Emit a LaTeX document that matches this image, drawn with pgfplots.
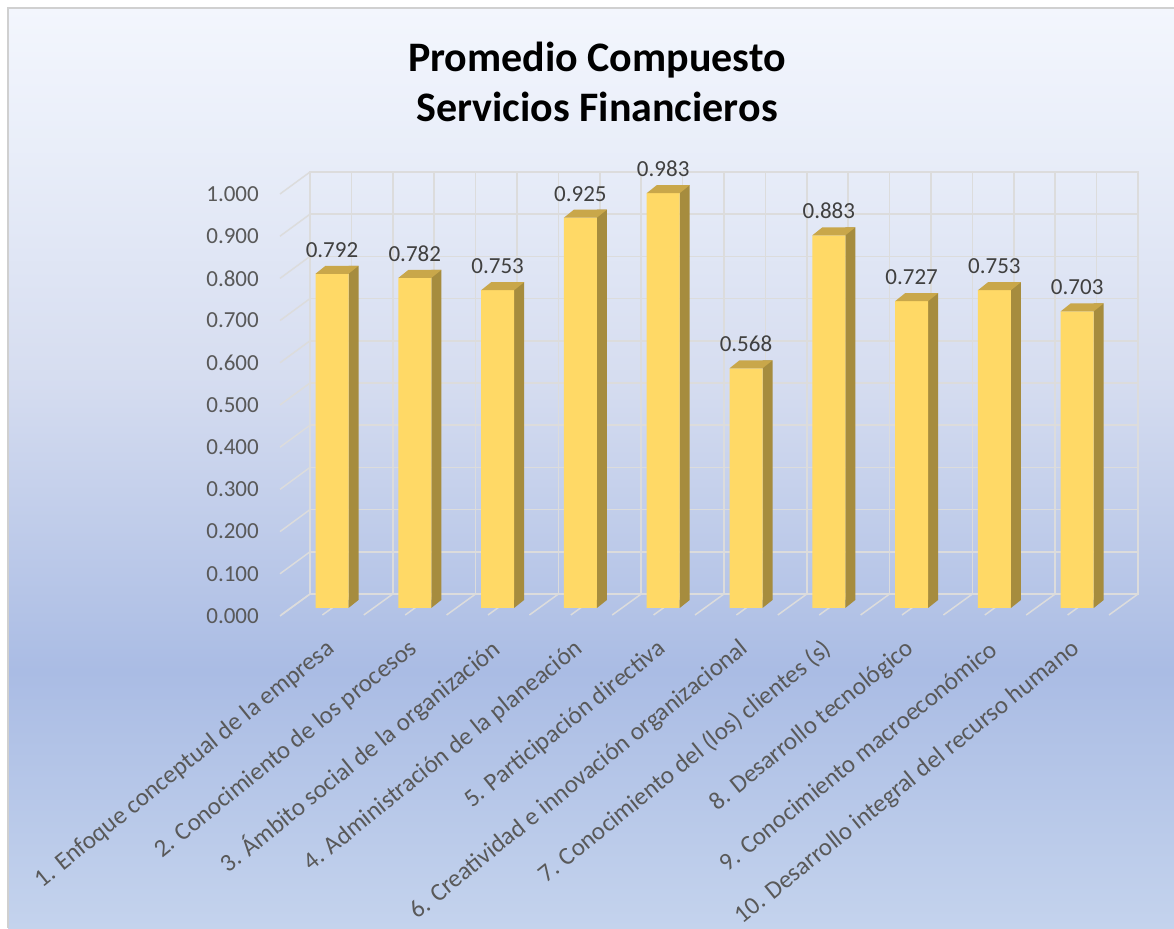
\documentclass[border=0pt]{standalone}
\usepackage{pgfplots}
\usepackage{pgfplotstable}
\pgfplotsset{compat=1.18}
\usepackage{fontspec}
\setmainfont{Carlito}
\definecolor{barfront}{HTML}{FFD966}
\definecolor{barside}{HTML}{A68C3E}
\definecolor{bartop}{HTML}{C9A74A}
\definecolor{gridc}{HTML}{DCDCDC}
\definecolor{tickc}{HTML}{595959}
\definecolor{datac}{HTML}{404040}
\definecolor{bordc}{HTML}{D0D0D0}
\definecolor{cb}{RGB}{196,211,237}
\definecolor{cm}{RGB}{170,188,228}
\definecolor{cmid}{RGB}{214,221,240}
\definecolor{cup}{RGB}{233,238,249}
\definecolor{ct}{RGB}{243,246,253}
\pgfdeclareverticalshading{bgshade}{100bp}{color(0bp)=(cb); color(25bp)=(cb); color(39bp)=(cm); color(55bp)=(cmid); color(67.5bp)=(cup); color(75bp)=(ct); color(100bp)=(ct)}
\pgfdeclareplotmark{bartopmark}{%
  \pgfpathmoveto{\pgfpoint{-35.9pt}{-14pt}}%
  \pgfpathlineto{\pgfpoint{-2.9pt}{-14pt}}%
  \pgfpathlineto{\pgfpoint{7.1pt}{-6pt}}%
  \pgfpathlineto{\pgfpoint{-25.9pt}{-6pt}}%
  \pgfpathclose\pgfusepathqfill}
\pgfdeclareplotmark{barfootmark}{%
  \pgfpathmoveto{\pgfpoint{-2.9pt}{-14pt}}%
  \pgfpathlineto{\pgfpoint{7.1pt}{-6pt}}%
  \pgfpathlineto{\pgfpoint{-2.9pt}{-6pt}}%
  \pgfpathclose\pgfusepathqfill}
\pgfplotstableread{
x y base
0 0.792 0
1 0.782 0
2 0.753 0
3 0.925 0
4 0.983 0
5 0.568 0
6 0.883 0
7 0.727 0
8 0.753 0
9 0.703 0
}\datatable
\begin{document}
\begin{tikzpicture}
\useasboundingbox (0pt,0pt) rectangle (1174pt,928pt);
\shade[shading=bgshade] (8pt,0pt) rectangle (1174pt,920pt);
\draw[color=bordc, line width=2pt] (8pt,0pt) -- (8pt,920pt) -- (1174pt,920pt);
\node[anchor=base, font=\bfseries\fontsize{42}{48}\selectfont] at (597pt,856pt) {Promedio Compuesto};
\node[anchor=base, font=\bfseries\fontsize{42}{48}\selectfont] at (597pt,806pt) {Servicios Financieros};
\begin{axis}[
  at={(310pt,334pt)}, anchor=south west,
  width=828pt, height=422pt, scale only axis,
  xmin=-0.5, xmax=9.5, ymin=0, ymax=1,
  clip=false,
  axis line style={draw=gridc, line width=1.5pt},
  major tick length=0pt, minor tick length=0pt,
  tick style={draw=none},
  ytick={0,0.1,0.2,0.3,0.4,0.5,0.6,0.7,0.8,0.9,1},
  xtick={0,1,2,3,4,5,6,7,8,9},
  minor xtick={-0.5,0.5,1.5,2.5,3.5,4.5,5.5,6.5,7.5,8.5,9.5},
  ymajorgrids, xmajorgrids, xminorgrids,
  major grid style={draw=gridc, line width=1.5pt},
  minor grid style={draw=gridc, line width=1.5pt},
  /pgf/number format/assume math mode=true,
  yticklabel style={/pgf/number format/fixed, /pgf/number format/fixed zerofill, /pgf/number format/precision=3,
     xshift=-51pt, yshift=-22pt, anchor=east, inner sep=0pt, text=tickc, font=\fontsize{23}{27}\selectfont},
  xticklabels={1. Enfoque conceptual de la empresa, 2. Conocimiento de los procesos, 3. Ámbito social de la organización, 4. Administración de la planeación, 5. Participación directiva, 6. Creatividad e innovación organizacional, 7. Conocimiento del (los) clientes (s), 8. Desarrollo tecnológico, 9. Conocimiento macroeconómico, 10. Desarrollo integral del recurso humano},
  xticklabel style={xshift=-20pt, yshift=-52pt, rotate=39, anchor=east, inner sep=0pt, text=tickc, font=\fontsize{25}{29}\selectfont},
]
\foreach \yy in {0,0.1,0.2,0.3,0.4,0.5,0.6,0.7,0.8,0.9,1} {
  \edef\tmp{\noexpand\draw[draw=gridc, line width=1.5pt] (axis cs:-0.5,\yy) -- ++(-30pt,-22pt);}\tmp
}
\foreach \xx in {-0.5,0,0.5,1,1.5,2,2.5,3,3.5,4,4.5,5,5.5,6,6.5,7,7.5,8,8.5,9,9.5} {
  \edef\tmp{\noexpand\draw[draw=gridc, line width=1.5pt] (axis cs:\xx,0) -- ++(-29pt,-21pt);}\tmp
}
\addplot[ybar, bar width=10pt, bar shift=2.1pt, yshift=-6pt, fill=barside, draw=none] table[x=x, y=y] {\datatable};
\addplot[only marks, mark=barfootmark, color=barside, fill=barside] table[x=x, y=base] {\datatable};
\addplot[ybar, bar width=33pt, bar shift=-19.4pt, yshift=-14pt, fill=barfront, draw=none] table[x=x, y=y] {\datatable};
\addplot[only marks, mark=bartopmark, color=bartop, fill=bartop,
  nodes near coords={\pgfmathprintnumber[fixed,fixed zerofill,precision=3]{\pgfplotspointmeta}},
  point meta=y,
  every node near coord/.append style={anchor=south, xshift=-19.4pt, yshift=2pt, inner sep=0pt, text=datac, font=\fontsize{23}{27}\selectfont}
  ] table[x=x, y=y] {\datatable};
\end{axis}
\end{tikzpicture}
\end{document}
